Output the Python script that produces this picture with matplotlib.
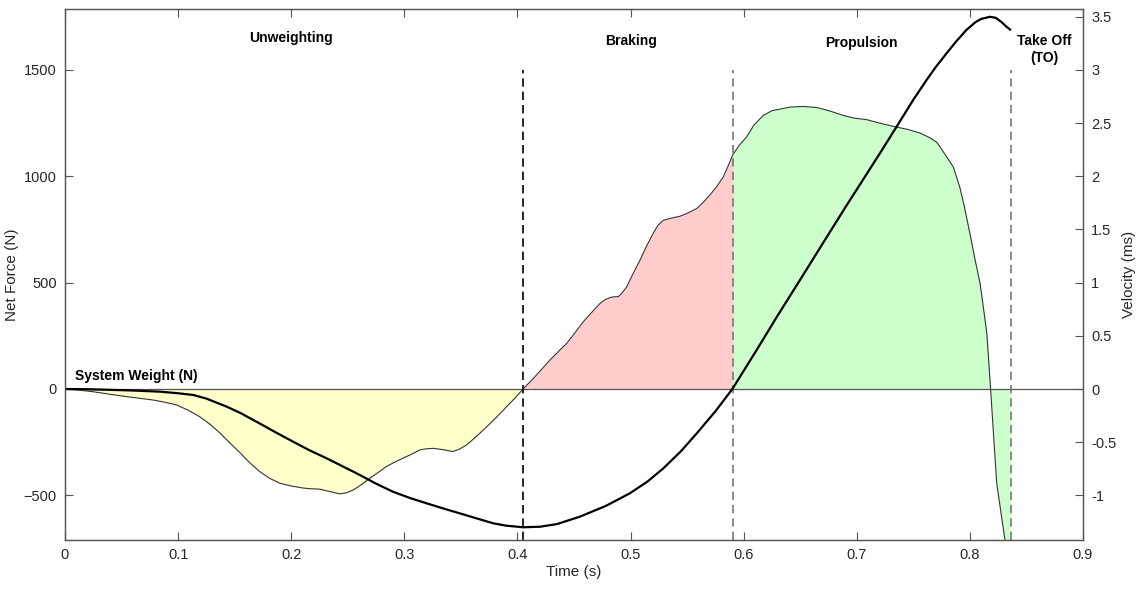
import matplotlib.pyplot as plt
import numpy as np

plt.rcParams['font.family'] = ['Liberation Sans', 'DejaVu Sans']

# net force (N) per phase
t_unw = [0.0, 0.01, 0.025, 0.04, 0.0545, 0.065, 0.078, 0.088, 0.0987, 0.109,
         0.119, 0.128, 0.137, 0.146, 0.155, 0.163, 0.172, 0.181, 0.190, 0.200,
         0.211, 0.218, 0.2254, 0.234, 0.243, 0.249, 0.255, 0.262, 0.2697, 0.277,
         0.284, 0.291, 0.299, 0.307, 0.314, 0.320, 0.3256, 0.334, 0.343, 0.349,
         0.355, 0.364, 0.373, 0.382, 0.3905, 0.398, 0.405]
f_unw = [0, -4, -13, -25, -36, -43, -52, -62, -75, -100,
         -130, -165, -207, -255, -301, -345, -388, -420, -443, -456,
         -466, -469, -471, -482, -493, -488, -474, -450, -419, -392,
         -365, -345, -325, -305, -286, -281, -279, -285, -294, -282,
         -263, -222, -177, -130, -83, -42, 0]

t_brk = [0.405, 0.415, 0.4288, 0.436, 0.4435, 0.451, 0.4582, 0.466, 0.473, 0.477,
         0.4818, 0.485, 0.4892, 0.492, 0.4966, 0.502, 0.5084, 0.514, 0.520, 0.524,
         0.529, 0.536, 0.5437, 0.551, 0.5585, 0.564, 0.570, 0.576, 0.582, 0.586,
         0.5903]
f_brk = [0, 55, 136, 175, 214, 265, 316, 362, 402, 418,
         430, 433, 434, 448, 480, 540, 606, 670, 731, 768,
         793, 803, 812, 828, 848, 876, 911, 950, 997, 1045,
         1100]

t_prop = [0.5903, 0.596, 0.6027, 0.609, 0.6174, 0.625, 0.641, 0.653, 0.6646, 0.676,
          0.688, 0.698, 0.7088, 0.720, 0.7353, 0.745, 0.7559, 0.765, 0.7706, 0.7736,
          0.779, 0.7853, 0.791, 0.795, 0.800, 0.8045, 0.809, 0.812, 0.815, 0.8183,
          0.8237, 0.828, 0.831, 0.836]
f_prop = [1100, 1145, 1185, 1240, 1286, 1308, 1325, 1328, 1323, 1307,
          1286, 1273, 1266, 1250, 1231, 1220, 1203, 1180, 1160, 1138,
          1095, 1044, 950, 860, 731, 610, 496, 380, 261, 0,
          -443, -600, -709, -980]

# velocity (m/s)
t_vel = [0.0, 0.02, 0.04, 0.06, 0.084, 0.1, 0.1134, 0.125, 0.143, 0.155,
         0.172, 0.185, 0.2018, 0.216, 0.2314, 0.246, 0.2608, 0.275, 0.290, 0.305,
         0.3198, 0.335, 0.349, 0.365, 0.3787, 0.39, 0.405, 0.42, 0.435, 0.4553,
         0.478, 0.4995, 0.515, 0.529, 0.545, 0.5585, 0.575, 0.590, 0.6115, 0.63,
         0.6498, 0.67, 0.69, 0.7205, 0.7353, 0.75, 0.7618, 0.77, 0.7795, 0.788,
         0.797, 0.805, 0.81, 0.8178, 0.823, 0.828, 0.832, 0.8355]
vel = [0.0, -0.002, -0.008, -0.014, -0.025, -0.04, -0.056, -0.09, -0.166, -0.225,
       -0.323, -0.40, -0.496, -0.575, -0.652, -0.73, -0.809, -0.89, -0.966, -1.025,
       -1.075, -1.125, -1.169, -1.22, -1.263, -1.285, -1.30, -1.295, -1.27, -1.20,
       -1.10, -0.98, -0.87, -0.746, -0.58, -0.417, -0.21, 0.0, 0.367, 0.69,
       1.025, 1.37, 1.71, 2.217, 2.468, 2.72, 2.907, 3.03, 3.158, 3.27,
       3.377, 3.45, 3.48, 3.50, 3.49, 3.45, 3.41, 3.38]

phase_t = [0.405, 0.5903, 0.836]
phase_lbl = ['Unweighting', 'Braking', 'Propulsion', 'Take Off\n(TO)']
lbl_t = [0.2, 0.5004, 0.704, 0.8656]
lbl_y = [1652, 1635, 1624, 1595]

fig = plt.figure(figsize=(11.4, 5.9), dpi=100)
ax = fig.add_axes([0.057, 0.0847, 0.893, 0.9])

ax.fill_between(t_unw, f_unw, 0, color='#ffffcc', lw=0)
ax.fill_between(t_brk, f_brk, 0, color='#ffcccc', lw=0)
ax.fill_between(t_prop, f_prop, 0, color='#ccffcc', lw=0)
ax.plot(t_unw + t_brk[1:] + t_prop[1:], f_unw + f_brk[1:] + f_prop[1:],
        color='#333333', lw=0.8)
ax.axhline(0, color='#555555', lw=0.9)

ax.vlines(phase_t[0], -710, 1500, color='black', lw=1.2, linestyles=(0, (5, 3)))
ax.vlines(phase_t[1:], -710, 1500, color='#777777', lw=1.2, linestyles=(0, (5, 3)))

for t, s, y in zip(lbl_t, phase_lbl, lbl_y):
    ax.text(t, y, s, ha='center', va='center', fontsize=10, fontweight='bold',
            linespacing=1.3)
ax.text(0.009, 60, 'System Weight (N)', ha='left', va='center', fontsize=10,
        fontweight='bold')

ax.set_xlim(0, 0.9)
ax.set_ylim(-710, 1786)
ax.set_xticks(np.arange(0, 0.91, 0.1))
ax.set_xticklabels(['0', '0.1', '0.2', '0.3', '0.4', '0.5', '0.6', '0.7', '0.8', '0.9'])
ax.set_yticks([-500, 0, 500, 1000, 1500])
ax.set_xlabel('Time (s)', fontsize=11, color='#262626', labelpad=2)
ax.set_ylabel('Net Force (N)', fontsize=11, color='#262626', labelpad=3)
ax.tick_params(direction='in', length=6, width=0.8, colors='#555555',
               labelcolor='#262626', labelsize=10.5, top=True, right=False, pad=6)

ax2 = ax.twinx()
ax2.plot(t_vel, vel, color='black', lw=1.6)
ax2.set_ylim(-1.42, 3.573)
ax2.set_yticks([-1, -0.5, 0, 0.5, 1, 1.5, 2, 2.5, 3, 3.5])
ax2.set_yticklabels(['-1', '-0.5', '0', '0.5', '1', '1.5', '2', '2.5', '3', '3.5'])
ax2.set_ylabel('Velocity (ms)', fontsize=11, color='#262626', labelpad=4)
ax2.tick_params(direction='in', length=6, width=0.8, colors='#555555',
                labelcolor='#262626', labelsize=10.5, pad=6)

for a in (ax, ax2):
    for sp in a.spines.values():
        sp.set_color('#555555')
        sp.set_linewidth(0.9)

fig.savefig('out.png', dpi=100)
